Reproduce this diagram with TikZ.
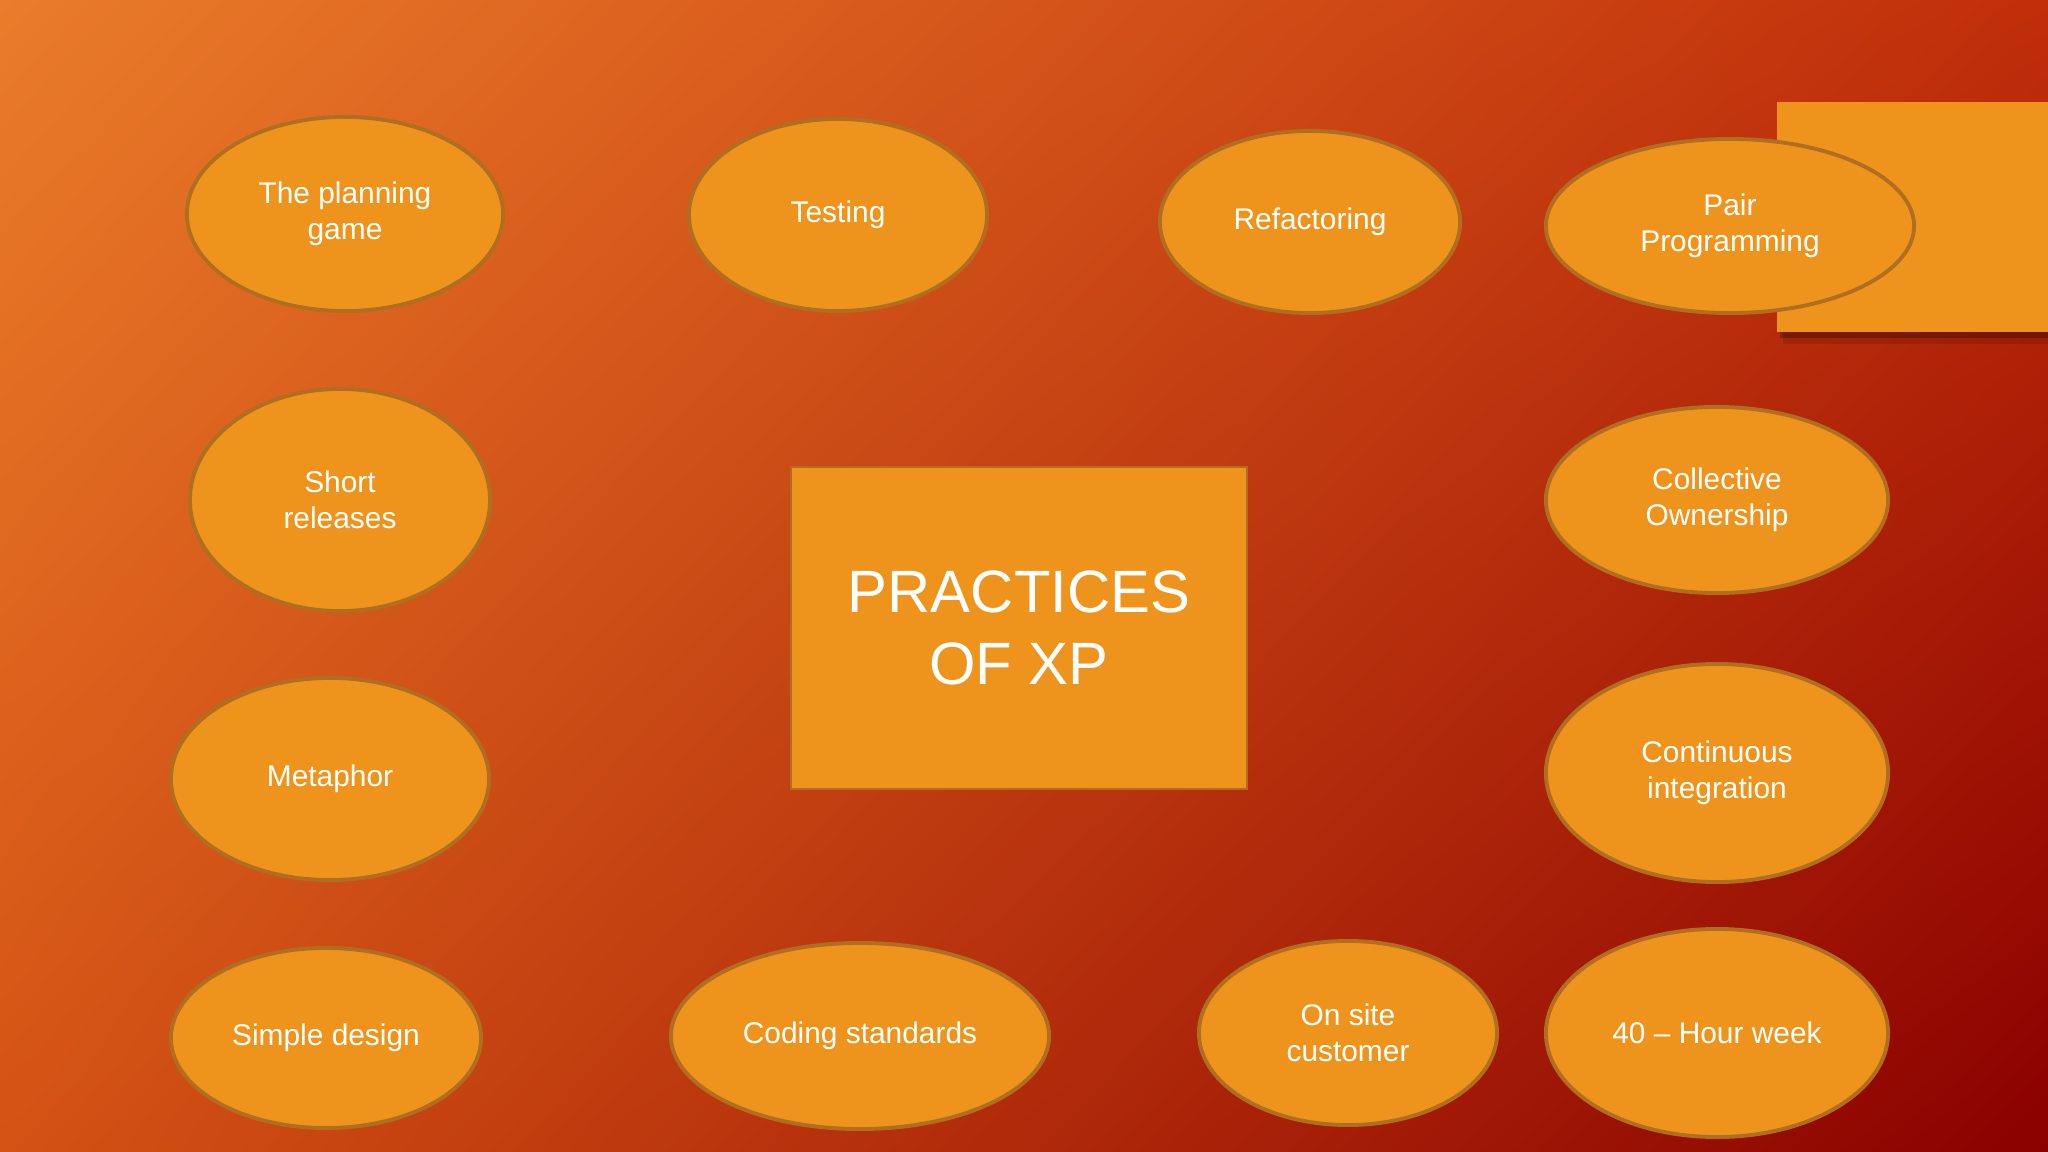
\documentclass[tikz,border=0pt]{standalone}
\usepackage{fontspec}
\setmainfont{Liberation Sans}
\usetikzlibrary{shapes.geometric,shadings}
\definecolor{bgtl}{RGB}{234,124,42}
\definecolor{bgtr}{RGB}{192,46,10}
\definecolor{bgbl}{RGB}{212,82,20}
\definecolor{bgbr}{RGB}{138,0,0}
\definecolor{boxfill}{RGB}{238,148,28}
\definecolor{boxline}{RGB}{176,110,32}
\begin{document}
\begin{tikzpicture}[x=0.01cm,y=-0.01cm,
    practice/.style={ellipse,draw=boxline,line width=1.1pt,fill=boxfill,inner sep=0pt,
      text=white,align=center,font=\fontsize{8.5}{10.2}\selectfont},
    title/.style={rectangle,draw=boxline,line width=0.6pt,fill=boxfill,inner sep=0pt,
      text=white,align=center,font=\fontsize{17}{20.5}\selectfont}]
  \useasboundingbox (0,0) rectangle (2048,1152);
  \shade[upper left=bgtl,upper right=bgtr,lower left=bgbl,lower right=bgbr] (0,0) rectangle (2048,1152);
  \fill[black,opacity=0.12] (1783,112) rectangle (2048,344);
  \fill[black,opacity=0.25] (1780,107) rectangle (2048,338);
  \fill[boxfill] (1777,102) rectangle (2048,332);
  \node[title,minimum width=4.56cm,minimum height=3.21cm] (xp) at (1019,628) {PRACTICES\\OF XP};
  \node[practice,minimum width=3.16cm,minimum height=1.94cm] (plan) at (345,214) {The planning\\game};
  \node[practice,minimum width=2.98cm,minimum height=1.92cm] (test) at (838,215) {Testing};
  \node[practice,minimum width=3.00cm,minimum height=1.82cm] (refac) at (1310,222) {Refactoring};
  \node[practice,minimum width=3.68cm,minimum height=1.74cm] (pair) at (1730,226) {Pair\\Programming};
  \node[practice,minimum width=3.00cm,minimum height=2.22cm] (short) at (340,500) {Short\\releases};
  \node[practice,minimum width=3.42cm,minimum height=1.86cm] (coll) at (1717,500) {Collective\\Ownership};
  \node[practice,minimum width=3.18cm,minimum height=2.02cm] (meta) at (330,779) {Metaphor};
  \node[practice,minimum width=3.42cm,minimum height=2.18cm] (cont) at (1717,773) {Continuous\\integration};
  \node[practice,minimum width=3.10cm,minimum height=1.80cm] (simple) at (326,1038) {Simple design};
  \node[practice,minimum width=3.78cm,minimum height=1.86cm] (coding) at (860,1036) {Coding standards};
  \node[practice,minimum width=2.98cm,minimum height=1.84cm] (onsite) at (1348,1033) {On site\\customer};
  \node[practice,minimum width=3.42cm,minimum height=2.08cm] (hour) at (1717,1033) {40 – Hour week};
\end{tikzpicture}
\end{document}
